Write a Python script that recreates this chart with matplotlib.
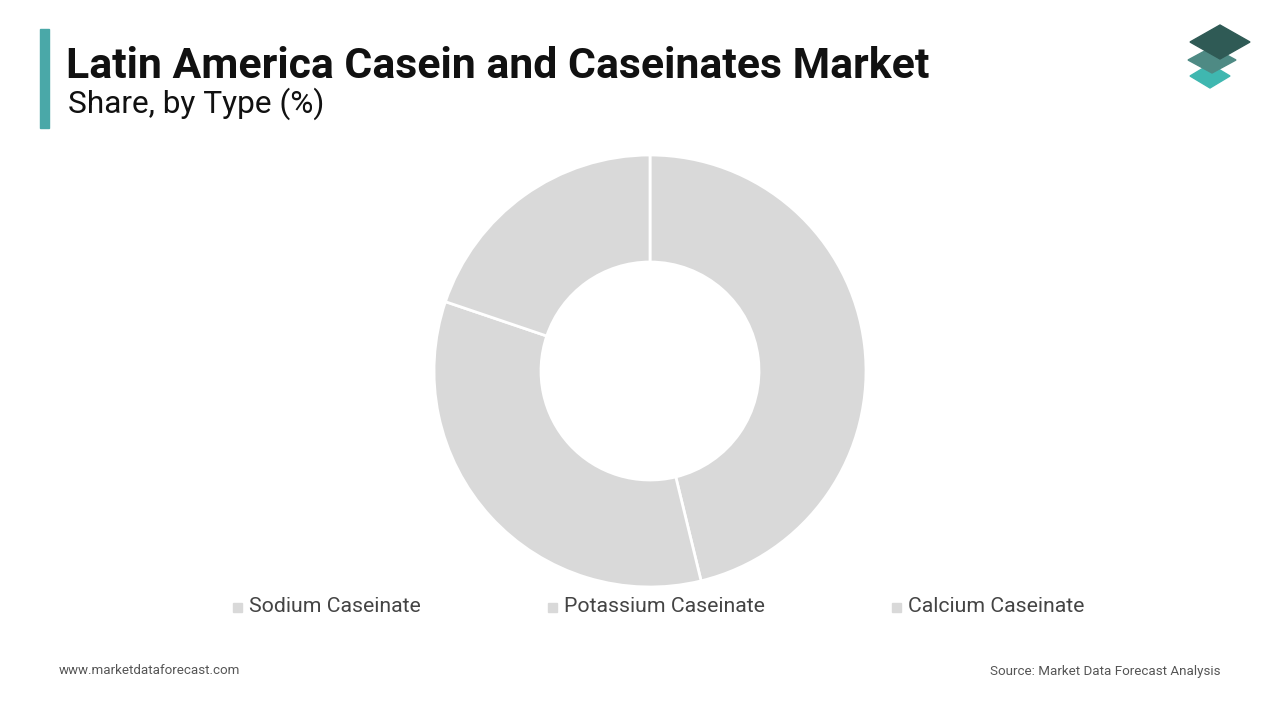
import matplotlib
matplotlib.use("Agg")
import matplotlib.pyplot as plt
from matplotlib.patches import Polygon, Rectangle

categories = ["Sodium Caseinate", "Potassium Caseinate", "Calcium Caseinate"]
shares = [46.2, 34.0, 19.8]
colors = ["#d9d9d9", "#d9d9d9", "#d9d9d9"]

plt.rcParams['font.family'] = ['Roboto', 'DejaVu Sans']
fig = plt.figure(figsize=(12.8, 7.2), dpi=100)
W, H = 1280, 720

r = 216
ax = fig.add_axes([(650 - r) / W, 1 - (371 + r) / H, 2 * r / W, 2 * r / H])
ax.pie(shares, colors=colors, startangle=90, counterclock=False,
       radius=1, wedgeprops=dict(width=107 / 216, edgecolor="white", linewidth=2))
ax.set_xlim(-1, 1); ax.set_ylim(-1, 1); ax.set_aspect("equal"); ax.axis("off")

fig.patches.append(Rectangle((40 / W, 1 - 128 / H), 9 / W, 99 / H, transform=fig.transFigure, color="#4aa8a8"))
fig.text(66 / W, 1 - 66 / H, "Latin America Casein and Caseinates Market", fontsize=30.8, fontweight="bold", va="center", color="#111")
fig.text(68 / W, 1 - 104 / H, "Share, by Type (%)", fontsize=22.8, va="center", color="#111")

lx = [233, 548, 892]
for x, c, t in zip(lx, colors, categories):
    fig.patches.append(Rectangle((x / W, 1 - 612 / H), 9 / W, 9 / H, transform=fig.transFigure, color="#d9d9d9"))
    fig.text((x + 16) / W, 1 - 607 / H, t, fontsize=15.3, va="center", color="#444")

fig.text(59 / W, 1 - 671 / H, "www.marketdataforecast.com", fontsize=9.6, va="center", color="#555")
fig.text(1220 / W, 1 - 671 / H, "Source: Market Data Forecast Analysis", fontsize=9.6, va="center", ha="right", color="#555")

def dia(cx, cy, w, h, col):
    pts = [(cx / W, 1 - (cy - h) / H), ((cx + w) / W, 1 - cy / H), (cx / W, 1 - (cy + h) / H), ((cx - w) / W, 1 - cy / H)]
    fig.patches.append(Polygon(pts, closed=True, transform=fig.transFigure, color=col))
dia(1210, 76, 20, 12, "#3fb7b0")
dia(1212, 60, 24, 13, "#4e8a84")
dia(1220, 42, 30, 17, "#2f5a55")

fig.savefig("out.png", dpi=100, facecolor="white")
